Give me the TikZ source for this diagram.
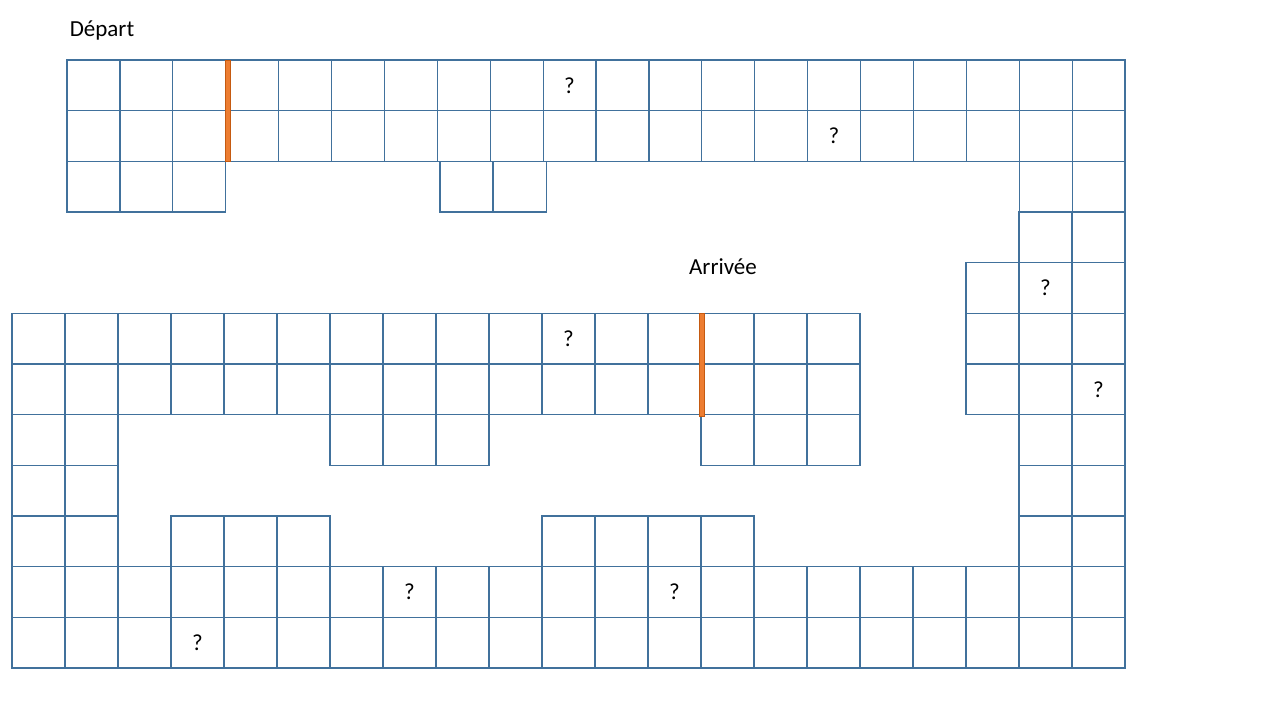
\documentclass[tikz,border=0pt]{standalone}
\usepackage{fontspec}
\setmainfont{Carlito}
\definecolor{cellblue}{RGB}{65,113,156}
\definecolor{barorange}{RGB}{237,125,49}
\definecolor{barborder}{RGB}{197,90,17}
\begin{document}
\begin{tikzpicture}[x=1pt,y=-1pt,
  cell/.style={draw=cellblue,line width=1.2pt,minimum width=53pt,minimum height=50.67pt,inner sep=0pt,outer sep=0pt,anchor=north west},
  topcell/.style={cell,minimum width=52.9pt},
  lbl/.style={font=\fontsize{23}{27}\selectfont,inner sep=0pt},
  bar/.style={fill=barorange,draw=barborder,line width=0.6pt}]
\useasboundingbox (0,0) rectangle (1280,720);
% top block (rows 0-1, 20 columns)
\foreach \r in {0,1}{
  \foreach \c in {0,...,19}{
    \node[topcell] (t\r-\c) at ({67+\c*52.9},{60+\r*50.67}) {};
  }
}
% top block row 2
\foreach \c in {0,1,2,18,19}{
  \node[topcell] (t2-\c) at ({67+\c*52.9},{60+2*50.67}) {};
}
\foreach \c in {7,8}{
  \node[topcell] (t2-\c) at ({440+(\c-7)*53.5},{60+2*50.67}) {};
}
% right column (global cols 19,20; rows 3-9)
\foreach \r in {3,...,9}{
  \foreach \c in {19,20}{
    \node[cell] (g\r-\c) at ({12+\c*53},{60+\r*50.67}) {};
  }
}
\foreach \r in {4,5,6}{
  \node[cell] (g\r-18) at ({12+18*53},{60+\r*50.67}) {};
}
% middle block rows 5,6
\foreach \r in {5,6}{
  \foreach \c in {0,...,15}{
    \node[cell] (g\r-\c) at ({12+\c*53},{60+\r*50.67}) {};
  }
}
\foreach \c in {0,1,6,7,8,13,14,15}{
  \node[cell] (g7-\c) at ({12+\c*53},{60+7*50.67}) {};
}
\foreach \c in {0,1}{
  \node[cell] (g8-\c) at ({12+\c*53},{60+8*50.67}) {};
}
\foreach \c in {0,1,3,4,5,10,11,12,13}{
  \node[cell] (g9-\c) at ({12+\c*53},{60+9*50.67}) {};
}
% bottom block rows 10,11
\foreach \r in {10,11}{
  \foreach \c in {0,...,20}{
    \node[cell] (g\r-\c) at ({12+\c*53},{60+\r*50.67}) {};
  }
}
% orange barriers
\draw[bar] (225.5,60) rectangle (230.5,161.34);
\draw[bar] (699.3,313.35) rectangle (704.3,416);
% labels
\node[lbl] (depart) at (102,30) {Départ};
\node[lbl] (arrivee) at (723,267) {Arrivée};
\node[lbl] (q1) at (t0-9.center) {?};
\node[lbl] (q2) at (t1-14.center) {?};
\node[lbl] (q3) at (g4-19.center) {?};
\node[lbl] (q4) at (g6-20.center) {?};
\node[lbl] (q5) at (g5-10.center) {?};
\node[lbl] (q6) at (g10-7.center) {?};
\node[lbl] (q7) at (g10-12.center) {?};
\node[lbl] (q8) at (g11-3.center) {?};
\end{tikzpicture}
\end{document}
